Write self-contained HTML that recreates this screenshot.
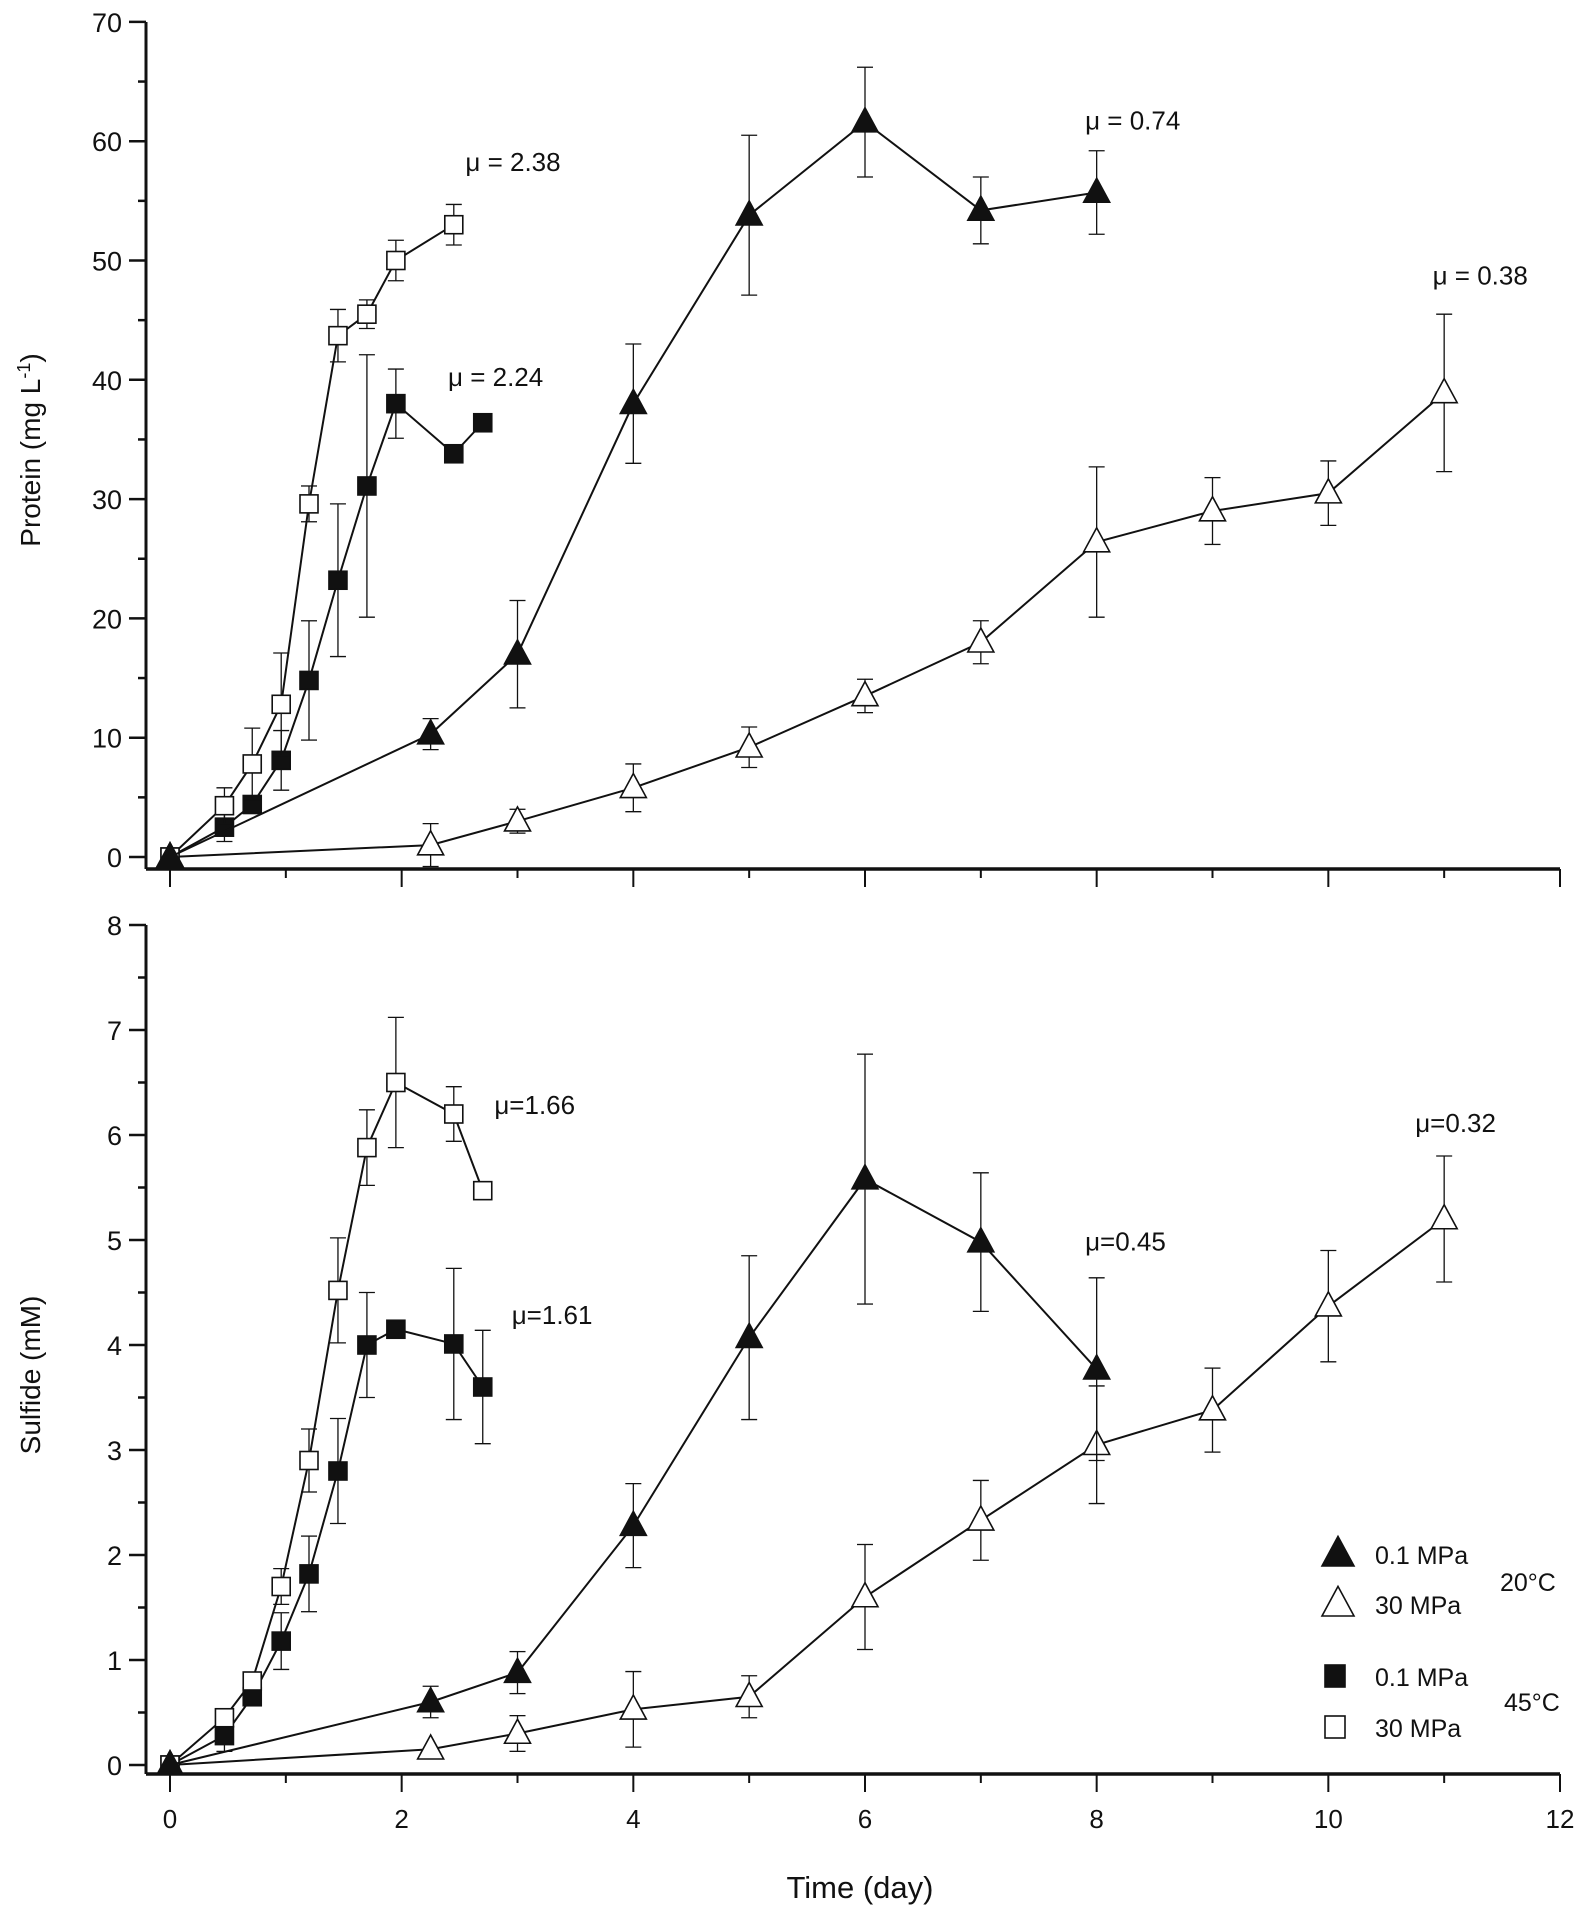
<!DOCTYPE html>
<html><head><meta charset="utf-8"><style>
html,body{margin:0;padding:0;background:#fff}
svg text{font-family:"Liberation Sans",sans-serif;fill:#111}
</style></head><body>
<svg id="chart" width="1582" height="1909" viewBox="0 0 1582 1909" xmlns="http://www.w3.org/2000/svg"></svg>
<script>
// ---- data ----
const ftX=[0,2.25,3,4,5,6,7,8];
const ftP=[0,10.3,17,38,53.8,61.6,54.2,55.7];
const ftPe=[0,1.3,4.5,5,6.7,4.6,2.8,3.5];
const otX=[0,2.25,3,4,5,6,7,8,9,10,11];
const otP=[0,1,3,5.8,9.2,13.5,18,26.4,29,30.5,38.9];
const otPe=[0,1.8,1,2,1.7,1.4,1.8,6.3,2.8,2.7,6.6];
const fsX=[0,0.47,0.71,0.96,1.2,1.45,1.7,1.95,2.45,2.7];
const fsP=[0,2.5,4.4,8.1,14.8,23.2,31.1,38,33.8,36.4];
const fsPe=[0,1.2,0,2.5,5,6.4,11,2.9,0,0];
const osX=[0,0.47,0.71,0.96,1.2,1.45,1.7,1.95,2.45];
const osP=[0,4.3,7.8,12.8,29.6,43.7,45.5,50,53];
const osPe=[0,1.5,3,4.3,1.5,2.2,1.2,1.7,1.7];
const ftS=[0,0.6,0.88,2.28,4.07,5.58,4.98,3.77];
const ftSe=[0,0.15,0.2,0.4,0.78,1.19,0.66,0.87];
const otS=[0,0.15,0.3,0.53,0.65,1.6,2.33,3.05,3.38,4.37,5.2];
const otSe=[0,0,0.17,0.36,0.2,0.5,0.38,0.56,0.4,0.53,0.6];
const fsS=[0,0.28,0.65,1.18,1.82,2.8,4.0,4.15,4.01,3.6];
const fsSe=[0,0.15,0,0.27,0.36,0.5,0.5,0,0.72,0.54];
const osSX=[0,0.47,0.71,0.96,1.2,1.45,1.7,1.95,2.45,2.7];
const osS=[0,0.45,0.8,1.7,2.9,4.52,5.88,6.5,6.2,5.47];
const osSe=[0,0.08,0,0.17,0.3,0.5,0.36,0.62,0.26,0];
const xTicks=[0,2,4,6,8,10,12];
const pTicks=[0,10,20,30,40,50,60,70];
const sTicks=[0,1,2,3,4,5,6,7,8];
const muP=[["μ = 2.38",2.55,57.5],["μ = 2.24",2.4,39.5],["μ = 0.74",7.9,61],["μ = 0.38",10.9,48]];
const muS=[["μ=1.66",2.8,6.2],["μ=1.61",2.95,4.2],["μ=0.45",7.9,4.9],["μ=0.32",10.75,6.03]];

const NS="http://www.w3.org/2000/svg";
const svg=document.getElementById('chart');
function mk(t,a,p){const e=document.createElementNS(NS,t);for(const k in a)e.setAttribute(k,a[k]);(p||svg).appendChild(e);return e;}
const X0=170,X1=1560,AX=146;
const xs=v=>X0+(X1-X0)*v/12;
const ysP=v=>857-v*11.93;
const ysS=v=>1765-v*105;

function axes(name,ys,ticks,minorStep,maxV,bottomY,topY){
  const g=mk('g',{});
  
  
  mk('line',{x1:AX,y1:topY,x2:AX,y2:bottomY,stroke:'#111','stroke-width':3},g);
  mk('line',{x1:AX,y1:bottomY,x2:X1,y2:bottomY,stroke:'#111','stroke-width':3.5},g);
  for(let v=0;v<=maxV+1e-9;v+=minorStep){
    const major=ticks.some(t=>Math.abs(t-v)<1e-9);
    mk('line',{x1:AX-(major?17:8),y1:ys(v),x2:AX,y2:ys(v),stroke:'#111','stroke-width':2.5},g);
  }
  ticks.forEach(t=>{const tx=mk('text',{x:AX-24,y:ys(t)+10,'text-anchor':'end','font-size':27},g);tx.textContent=t;
    
    });
  for(let v=0;v<=12;v++){
    mk('line',{x1:xs(v),y1:bottomY,x2:xs(v),y2:bottomY+(v%2===0?18:9),stroke:'#111','stroke-width':2},g);
  }
}
axes('protein-axes',ysP,pTicks,5,70,869,22);
axes('sulfide-axes',ysS,sTicks,0.5,8,1774,925);
xTicks.forEach(t=>{const tx=mk('text',{x:xs(t),y:1828,'text-anchor':'middle','font-size':26});tx.textContent=t;
  
  });
let t=mk('text',{x:860,y:1898,'text-anchor':'middle','font-size':31});t.textContent='Time (day)';


t=mk('text',{transform:'translate(40,450) rotate(-90)','text-anchor':'middle','font-size':28});
t.innerHTML='Protein (mg L<tspan dy="-10" font-size="18">-1</tspan><tspan dy="10">)</tspan>';


t=mk('text',{transform:'translate(40,1375) rotate(-90)','text-anchor':'middle','font-size':28});t.textContent='Sulfide (mM)';



function marker(g,shape,fill,cx,cy){
  if(shape==='tri'){const s=13;mk('polygon',{points:`${cx},${cy-s*1.1} ${cx-s},${cy+s*0.75} ${cx+s},${cy+s*0.75}`,fill:fill,stroke:'#111','stroke-width':1.6},g);}
  else{mk('rect',{x:cx-9,y:cy-9,width:18,height:18,fill:fill,stroke:'#111','stroke-width':1.6},g);}
}
function series(name,xArr,vals,errs,ys,shape,fill){
  const g=mk('g',{});
  
  
  mk('polyline',{points:xArr.map((x,i)=>xs(x)+','+ys(vals[i])).join(' '),fill:'none',stroke:'#111','stroke-width':2},g);
  xArr.forEach((x,i)=>{const e=errs[i];if(e>0){const cx=xs(x),a=ys(vals[i]-e),b=ys(vals[i]+e);
    mk('line',{x1:cx,y1:a,x2:cx,y2:b,stroke:'#111','stroke-width':1.3},g);
    mk('line',{x1:cx-8,y1:a,x2:cx+8,y2:a,stroke:'#111','stroke-width':1.3},g);
    mk('line',{x1:cx-8,y1:b,x2:cx+8,y2:b,stroke:'#111','stroke-width':1.3},g);}});
  xArr.forEach((x,i)=>marker(g,shape,fill,xs(x),ys(vals[i])));
}
series('protein-open-triangle',otX,otP,otPe,ysP,'tri','#fff');
series('protein-filled-square',fsX,fsP,fsPe,ysP,'sq','#111');
series('protein-open-square',osX,osP,osPe,ysP,'sq','#fff');
series('protein-filled-triangle',ftX,ftP,ftPe,ysP,'tri','#111');
series('sulfide-open-triangle',otX,otS,otSe,ysS,'tri','#fff');
series('sulfide-filled-square',fsX,fsS,fsSe,ysS,'sq','#111');
series('sulfide-open-square',osSX,osS,osSe,ysS,'sq','#fff');
series('sulfide-filled-triangle',ftX,ftS,ftSe,ysS,'tri','#111');

muP.forEach(m=>{const tx=mk('text',{x:xs(m[1]),y:ysP(m[2]),'font-size':26});tx.textContent=m[0];
  
  });
muS.forEach(m=>{const tx=mk('text',{x:xs(m[1]),y:ysS(m[2]),'font-size':26});tx.textContent=m[0];
  
  });

// legend
const lg=mk('g',{});


const leg=[['tri','#111',1554,'0.1 MPa'],['tri','#fff',1604,'30 MPa'],['sq','#111',1676,'0.1 MPa'],['sq','#fff',1727,'30 MPa']];
leg.forEach(l=>{
  const g=mk('g',{},lg);
  
  
  if(l[0]==='tri'){const cx=1338,cy=l[2],s=16;mk('polygon',{points:`${cx},${cy-s*1.1} ${cx-s},${cy+s*0.75} ${cx+s},${cy+s*0.75}`,fill:l[1],stroke:'#111','stroke-width':1.6},g);}
  else mk('rect',{x:1325,y:l[2]-11,width:20,height:22,fill:l[1],stroke:'#111','stroke-width':1.6},g);
  const tx=mk('text',{x:1375,y:l[2]+10,'font-size':25},g);tx.textContent=l[3];
});
t=mk('text',{x:1500,y:1591,'font-size':25},lg);t.textContent='20°C';
t=mk('text',{x:1504,y:1711,'font-size':25},lg);t.textContent='45°C';
</script>
</body></html>
